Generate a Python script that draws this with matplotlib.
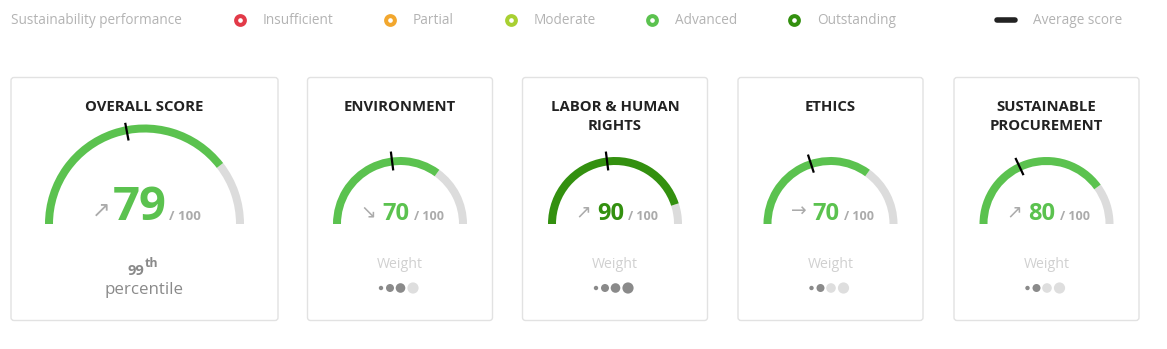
import matplotlib
matplotlib.use("Agg")
import numpy as np
import matplotlib.pyplot as plt
from matplotlib.patches import Wedge, FancyBboxPatch, Circle

# ------------------------------------------
# Data
# ------------------------------------------
categories = ["OVERALL SCORE", "ENVIRONMENT", "LABOR & HUMAN\nRIGHTS", "ETHICS", "SUSTAINABLE\nPROCUREMENT"]
scores = [79, 70, 90, 70, 80]
avg_scores = [44, 46, 46, 40, 36]
trends = ["↗", "↘", "↗", "→", "↗"]
levels = ["Advanced", "Advanced", "Outstanding", "Advanced", "Advanced"]
weights = [None, 3, 4, 2, 2]
percentile = "99"

legend_labels = ["Insufficient", "Partial", "Moderate", "Advanced", "Outstanding"]
level_colors = {
    "Insufficient": "#e23a48",
    "Partial": "#f2a72e",
    "Moderate": "#a8d032",
    "Advanced": "#5bc24f",
    "Outstanding": "#33900f",
}

# ------------------------------------------
# Layout (pixel space, y measured from top)
# ------------------------------------------
W, H = 1167, 349
plt.rcParams["font.family"] = ["Open Sans", "DejaVu Sans"]

fig = plt.figure(figsize=(W / 100, H / 100), dpi=100)
ax = fig.add_axes([0, 0, 1, 1])
ax.set_xlim(0, W)
ax.set_ylim(0, H)
ax.axis("off")


def Y(py):
    return H - py


# legend row
ly = 20
ax.text(11, Y(ly), "Sustainability performance", fontsize=9.8, color="#b3b3b3", va="center", ha="left")
marker_x = [240, 390, 511, 652, 794]
for mx, lab in zip(marker_x, legend_labels):
    ax.plot(mx, Y(ly), "o", ms=6.3, mfc="white", mec=level_colors[lab], mew=2.9)
    ax.text(mx + 23, Y(ly), lab, fontsize=9.8, color="#b3b3b3", va="center", ha="left")
ax.plot([997, 1015], [Y(ly), Y(ly)], color="#222222", lw=4, solid_capstyle="round")
ax.text(1033, Y(ly), "Average score", fontsize=9.8, color="#b3b3b3", va="center", ha="left")

# cards
card_left = [11, 307.5, 522.5, 738, 954]
card_width = [267, 185, 185, 185, 185]
card_top, card_bottom = 77.5, 320.5
gauge_cy = 224

for i, cat in enumerate(categories):
    x0 = card_left[i]
    cw = card_width[i]
    cx = x0 + cw / 2
    big = i == 0

    ax.add_patch(FancyBboxPatch((x0, Y(card_bottom)), cw, card_bottom - card_top,
                                boxstyle="round,pad=0,rounding_size=3",
                                fc="white", ec="#e2e2e2", lw=1))

    # title
    for k, line in enumerate(cat.split("\n")):
        ax.text(cx, Y(107 + 19 * k), line, fontsize=10.7, fontweight="bold",
                color="#222222", ha="center", va="center")

    # gauge
    r_out = 99.5 if big else 67
    thick = 8
    col = level_colors[levels[i]]
    ang = 180 - 1.8 * scores[i]
    ax.add_patch(Wedge((cx, Y(gauge_cy)), r_out, 0, ang, width=thick, fc="#dcdcdc", ec="none"))
    ax.add_patch(Wedge((cx, Y(gauge_cy)), r_out, ang, 180, width=thick, fc=col, ec="none"))

    # average tick
    a = np.deg2rad(180 - 1.8 * avg_scores[i])
    r1, r2 = (85, 103) if big else (54, 73)
    ax.plot([cx + r1 * np.cos(a), cx + r2 * np.cos(a)],
            [Y(gauge_cy) + r1 * np.sin(a), Y(gauge_cy) + r2 * np.sin(a)],
            color="black", lw=1.6, solid_capstyle="butt")

    # score text
    if big:
        ax.text(cx - 4.5, Y(220), str(scores[i]), fontsize=34, fontweight="bold",
                color=col, ha="center", va="baseline")
        ax.text(cx + 24.5, Y(220), "/ 100", fontsize=9.5, fontweight="bold",
                color="#ababab", ha="left", va="baseline")
        ax.text(cx - 43.5, Y(211), trends[i], fontsize=16, color="#ababab",
                ha="center", va="center", family=["DejaVu Sans"])
        # percentile
        ax.text(cx - 0.5, Y(275), percentile, fontsize=10.5, fontweight="bold",
                color="#8a8a8a", ha="right", va="baseline")
        ax.text(cx, Y(267), "th", fontsize=9, fontweight="bold",
                color="#8a8a8a", ha="left", va="baseline")
        ax.text(cx, Y(290), "percentile", fontsize=12.2, color="#8a8a8a",
                ha="center", va="center")
    else:
        ax.text(cx - 4.5, Y(220), str(scores[i]), fontsize=17, fontweight="bold",
                color=col, ha="center", va="baseline")
        ax.text(cx + 13.5, Y(220.5), "/ 100", fontsize=9, fontweight="bold",
                color="#ababab", ha="left", va="baseline")
        ax.text(cx - 32, Y(211.5), trends[i], fontsize=13.5, color="#ababab",
                ha="center", va="center", family=["DejaVu Sans"])
        # weight
        ax.text(cx, Y(264), "Weight", fontsize=10.2, color="#d0d0d0",
                ha="center", va="center")
        dot_dx = [-19, -10, 0.5, 13]
        dot_r = [2.2, 4, 4.8, 5.6]
        for d in range(4):
            fc = "#8a8a8a" if d < weights[i] else "#dedede"
            ax.add_patch(Circle((cx + dot_dx[d], Y(288)), dot_r[d], fc=fc, ec="none"))

fig.savefig("out.png", dpi=100)
